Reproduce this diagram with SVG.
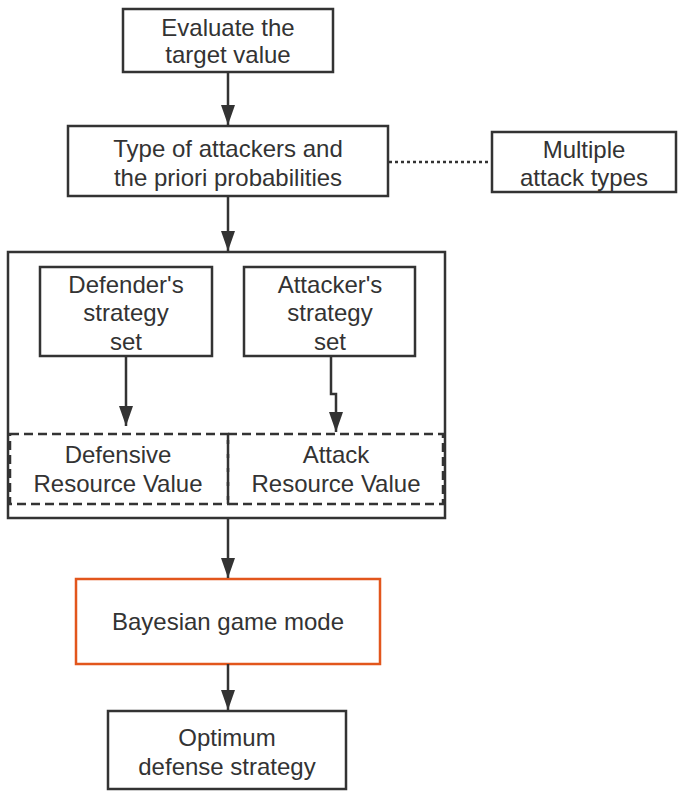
<svg xmlns="http://www.w3.org/2000/svg" width="685" height="799" viewBox="0 0 685 799">
<style>
.box{fill:#fff;stroke:#333;stroke-width:2.5}
.dash{fill:none;stroke:#333;stroke-width:2.5;stroke-dasharray:9 5}
.orange{fill:#fff;stroke:#E2561C;stroke-width:2.5}
.ln{fill:none;stroke:#333;stroke-width:2.5}
text{font-family:"Liberation Sans","Noto Sans",sans-serif;font-size:24px;fill:#333;text-anchor:middle}
</style>
<defs>
<marker id="ah" markerWidth="20" markerHeight="14" refX="20" refY="7" orient="auto" markerUnits="userSpaceOnUse" viewBox="0 0 20 14">
<path d="M0,0 L20,7 L0,14 Z" fill="#333"/>
</marker>
</defs>
<rect width="685" height="799" fill="#fff"/>
<g id="container"><rect class="box" x="8" y="252" width="437" height="266"/></g>
<g id="n1"><rect class="box" x="123" y="9" width="210" height="63"/><text x="228" y="36">Evaluate the</text><text x="228" y="63">target value</text></g>
<g id="n2"><rect class="box" x="68" y="126" width="320" height="70"/><text x="228" y="157">Type of attackers and</text><text x="228" y="186">the priori probabilities</text></g>
<g id="n3"><rect class="box" x="492" y="132" width="184" height="60"/><text x="584" y="158">Multiple</text><text x="584" y="186">attack types</text></g>
<g id="n4"><rect class="box" x="40" y="267" width="172" height="89"/><text x="126" y="293">Defender's</text><text x="126" y="321">strategy</text><text x="126" y="350">set</text></g>
<g id="n5"><rect class="box" x="244" y="267" width="171" height="89"/><text x="330" y="293">Attacker's</text><text x="330" y="321">strategy</text><text x="330" y="350">set</text></g>
<g id="n6"><rect class="dash" x="10" y="434" width="218" height="70"/><text x="118" y="463">Defensive</text><text x="118" y="492">Resource Value</text></g>
<g id="n7"><rect class="dash" x="228" y="434" width="215" height="70"/><text x="336" y="463">Attack</text><text x="336" y="492">Resource Value</text></g>
<g id="n8"><rect class="orange" x="76" y="579" width="304" height="85"/><text x="228" y="630">Bayesian game mode</text></g>
<g id="n9"><rect class="box" x="108" y="711" width="238" height="78"/><text x="227" y="746">Optimum</text><text x="227" y="775">defense strategy</text></g>
<g id="connectors">
<line class="ln" x1="228" y1="72" x2="228" y2="125" marker-end="url(#ah)"/>
<line x1="389" y1="162" x2="491" y2="162" stroke="#333" stroke-width="2.5" stroke-dasharray="3 3"/>
<line class="ln" x1="228" y1="196" x2="228" y2="251" marker-end="url(#ah)"/>
<line class="ln" x1="126" y1="356" x2="126" y2="426" marker-end="url(#ah)"/>
<polyline class="ln" points="331,356 331,394 336,394 336,432" marker-end="url(#ah)"/>
<line class="ln" x1="228" y1="518" x2="228" y2="578" marker-end="url(#ah)"/>
<line class="ln" x1="228" y1="664" x2="228" y2="710" marker-end="url(#ah)"/>
</g>
</svg>
